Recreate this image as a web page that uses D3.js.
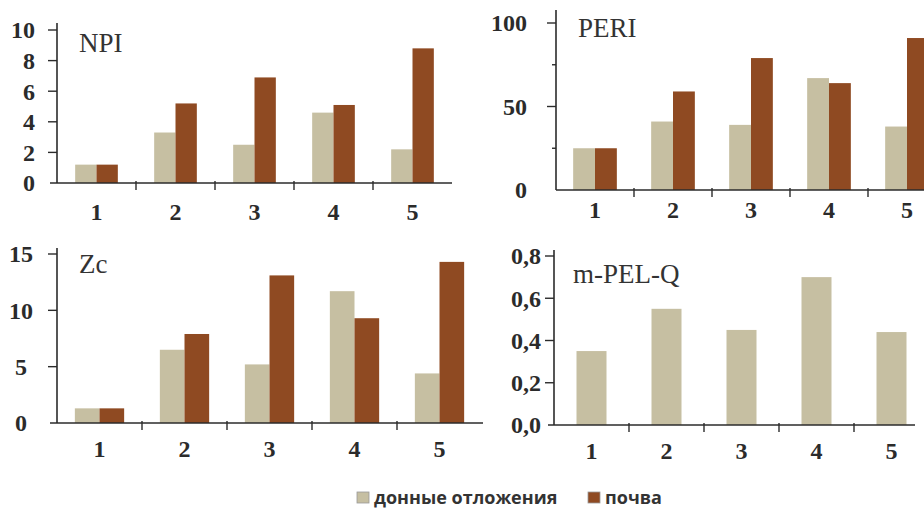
<!DOCTYPE html>
<html><head><meta charset="utf-8">
<script src="https://cdn.jsdelivr.net/npm/d3@7"></script>
<style>body{margin:0;background:#fff}svg{display:block}</style>
</head><body>
<svg id="c" width="924" height="509"></svg>
<script>
const categories = ["1","2","3","4","5"];
const seriesNames = ["донные отложения","почва"];
const npiSediment = [1.2, 3.3, 2.5, 4.6, 2.2];
const npiSoil     = [1.2, 5.2, 6.9, 5.1, 8.8];
const periSediment = [25, 41, 39, 67, 38];
const periSoil     = [25, 59, 79, 64, 91];
const zcSediment = [1.3, 6.5, 5.2, 11.7, 4.4];
const zcSoil     = [1.3, 7.9, 13.1, 9.3, 14.3];
const mpelqSediment = [0.35, 0.55, 0.45, 0.70, 0.44];
const npiTicks = [0,2,4,6,8,10];
const periTicks = [0,50,100];
const periMinor = [25,75];
const zcTicks = [0,5,10,15];
const mpelqTicks = [0,0.2,0.4,0.6,0.8];

const colors = {sed:"#c6bfa2", soil:"#8f4a22"};
const ink = "#2b2b2b";
const serif = "'Liberation Serif','Times New Roman','DejaVu Serif',serif";
const svg = d3.select("#c");

const panels = [
  {title:"NPI", sed:npiSediment, soil:npiSoil, domain:[0,10], ticks:npiTicks, minor:[],
   ax:57, band:79, yr:[183,30], axTop:23, xEnd:452, xStart:50, barFrac:0.27,
   tx:79, ty:52, lblX:35, lblAnchor:"end", xlblY:220, fmt:d=>d},
  {title:"PERI", sed:periSediment, soil:periSoil, domain:[0,100], ticks:periTicks, minor:periMinor,
   ax:556, band:78, yr:[190,23], axTop:10, xEnd:930, xStart:556, barFrac:0.28,
   tx:578, ty:37, lblX:527, lblAnchor:"end", xlblY:218, fmt:d=>d},
  {title:"Zc", sed:zcSediment, soil:zcSoil, domain:[0,15], ticks:zcTicks, minor:[],
   ax:57, band:85, yr:[423,254], axTop:248, xEnd:483, xStart:50, barFrac:0.29,
   tx:79, ty:273, lblX:21, lblAnchor:"middle", xlblY:457, fmt:d=>d},
  {title:"m-PEL-Q", sed:mpelqSediment, soil:null, domain:[0,0.8], ticks:mpelqTicks, minor:[],
   ax:554, band:75, yr:[425,256], axTop:250, xEnd:915, xStart:548, barFrac:0.4,
   tx:573, ty:283, lblX:541, lblAnchor:"end", xlblY:459, fmt:d=>d3.format(".1f")(d).replace(".",",")}
];

panels.forEach(p=>{
  const g = svg.append("g");
  const x = d3.scaleBand().domain(categories).range([p.ax, p.ax + p.band*categories.length]);
  const y = d3.scaleLinear().domain(p.domain).range(p.yr);
  const bw = p.band*p.barFrac;
  categories.forEach((c,i)=>{
    const cx = x(c) + x.bandwidth()/2;
    if (p.soil){
      g.append("rect").attr("x", cx-bw).attr("width", bw)
        .attr("y", y(p.sed[i])).attr("height", y(0)-y(p.sed[i])).attr("fill", colors.sed);
      g.append("rect").attr("x", cx).attr("width", bw)
        .attr("y", y(p.soil[i])).attr("height", y(0)-y(p.soil[i])).attr("fill", colors.soil);
    } else {
      g.append("rect").attr("x", cx-bw/2).attr("width", bw)
        .attr("y", y(p.sed[i])).attr("height", y(0)-y(p.sed[i])).attr("fill", colors.sed);
    }
  });
  g.append("line").attr("x1",p.ax).attr("x2",p.ax).attr("y1",p.axTop).attr("y2",y(0))
    .attr("stroke",ink).attr("stroke-width",1.6);
  p.ticks.forEach(t=>{
    if (t!==p.domain[0]) g.append("line").attr("x1",p.ax-9).attr("x2",p.ax).attr("y1",y(t)).attr("y2",y(t))
      .attr("stroke",ink).attr("stroke-width",1.4);
    g.append("text").attr("x",p.lblX).attr("y",y(t)).attr("dy","0.35em")
      .attr("text-anchor",p.lblAnchor).attr("font-family",serif)
      .attr("font-weight","bold").attr("font-size",24).attr("fill",ink).text(p.fmt(t));
  });
  p.minor.forEach(t=>{
    g.append("line").attr("x1",p.ax-4).attr("x2",p.ax).attr("y1",y(t)).attr("y2",y(t))
      .attr("stroke",ink).attr("stroke-width",1.4);
  });
  g.append("line").attr("x1",p.xStart).attr("x2",p.xEnd).attr("y1",y(0)).attr("y2",y(0))
    .attr("stroke",ink).attr("stroke-width",1.6);
  categories.slice(1).forEach(c=>{
    g.append("line").attr("x1",x(c)).attr("x2",x(c)).attr("y1",y(0)-2).attr("y2",y(0)+7)
      .attr("stroke",ink).attr("stroke-width",1.4);
  });
  categories.forEach(c=>{
    g.append("text").attr("x",x(c)+x.bandwidth()/2).attr("y",p.xlblY)
      .attr("text-anchor","middle").attr("font-family",serif)
      .attr("font-weight","bold").attr("font-size",24).attr("fill",ink).text(c);
  });
  g.append("text").attr("x",p.tx).attr("y",p.ty).attr("font-family",serif)
    .attr("font-size",27).attr("fill","#333").text(p.title);
});

const leg = svg.append("g").attr("font-family","'Open Sans'").attr("font-weight","bold")
  .attr("font-size",18).attr("fill","#333");
const legItems = [{x:357, c:colors.sed, t:seriesNames[0]},{x:588, c:colors.soil, t:seriesNames[1]}];
legItems.forEach(d=>{
  leg.append("rect").attr("x",d.x).attr("y",492).attr("width",12).attr("height",11)
    .attr("fill",d.c).attr("stroke","#999").attr("stroke-width",0.8);
  leg.append("text").attr("x",d.x+17).attr("y",503.5).text(d.t);
});
</script>
</body></html>
